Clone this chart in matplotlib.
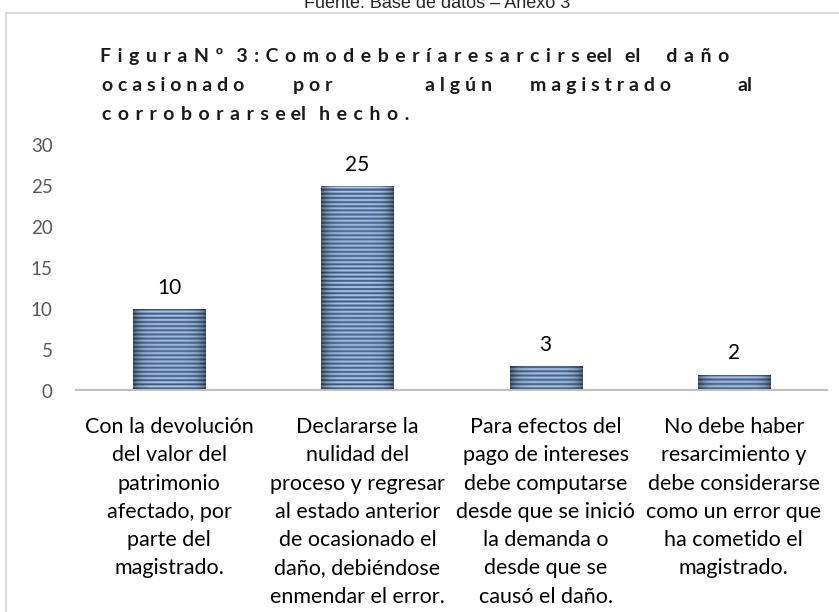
import numpy as np
import matplotlib
matplotlib.use("Agg")
import matplotlib.pyplot as plt
import matplotlib.transforms as mtransforms
from matplotlib.patches import Rectangle

W, H = 839, 612

categorias = [
    ["Con la devolución", "del valor del", "patrimonio", "afectado, por", "parte del", "magistrado."],
    ["Declararse la", "nulidad del", "proceso y regresar", "al estado anterior",
     "de ocasionado el", "daño, debiéndose", "enmendar el error."],
    ["Para efectos del", "pago de intereses", "debe computarse", "desde que se inició",
     "la demanda o", "desde que se", "causó el daño."],
    ["No debe haber", "resarcimiento y", "debe considerarse", "como un error que",
     "ha cometido el", "magistrado."],
]
valores = [10, 25, 3, 2]
yticks = [0, 5, 10, 15, 20, 25, 30]

fuente = "Fuente: Base de datos – Anexo 3"
# el titulo sale con letras espaciadas y la linea 2 justificada
titulo_l2 = ["ocasionado", "por", "algún", "magistrado", "al"]

SP = "\u2005"   # espacio entre letras (linea 2)
SP3 = "\u2004"  # un poco mas ancho (lineas 1 y 3)


def sp(txt, s=SP):
    return s.join(txt)


titulo_l1 = (sp("FiguraNº", SP3) + SP3 * 2 + sp("3:Comodeberíaresarcirse", SP3)
             + "el" + SP3 * 2 + "el" + SP3 * 4 + sp("daño", SP3))
titulo_l3 = sp("corroborarse", SP3) + SP + "el" + SP3 * 2 + sp("hecho.", SP3)

plt.rcParams["font.family"] = ["Lato", "DejaVu Sans"]

fig = plt.figure(figsize=(W / 100, H / 100), dpi=100)
ax = fig.add_axes([75 / W, 1 - 391 / H, (828 - 75) / W, (391 - 145) / H])

x = np.arange(len(valores))
bars = ax.bar(x, valores, width=0.383, color="#7f9fc8", linewidth=0, zorder=2)

# textura de franjas horizontales con bordes oscuros
for b, v in zip(bars, valores):
    nrows = int(v * 8.2)
    rows = 0.5 + 0.5 * np.cos(2 * np.pi * np.arange(nrows) / 4.1)
    cols = np.linspace(-1, 1, 60)
    edge = 1 - 0.45 * np.abs(cols) ** 5
    light = np.array([0.68, 0.80, 0.94])
    dark = np.array([0.24, 0.34, 0.50])
    tex = dark[None, None, :] + (light - dark)[None, None, :] * rows[:, None, None]
    tex = tex * edge[None, :, None]
    x0, x1 = b.get_x(), b.get_x() + b.get_width()
    im = ax.imshow(np.clip(tex, 0, 1), extent=[x0, x1, 0, v], aspect="auto",
                   origin="lower", zorder=3, interpolation="bilinear")
    im.set_clip_path(b)

ax.axhline(0, color="#bfbfbf", lw=3, zorder=4)

for xi, v in zip(x, valores):
    ax.annotate(str(v), (xi, v), xytext=(0, 8), textcoords="offset points",
                ha="center", va="bottom", fontsize=15, color="#000000")

ax.set_xlim(-0.5, 3.5)
ax.set_ylim(0, 30)
ax.set_yticks(yticks)
ax.set_yticklabels([str(t) for t in yticks], fontsize=13.5, color="#595959")
ax.tick_params(axis="y", length=0, pad=16)
ax.set_xticks([])
for s in ax.spines.values():
    s.set_visible(False)
ax.patch.set_alpha(0)

# etiquetas de categoria, linea por linea
trans = mtransforms.blended_transform_factory(ax.transData, fig.transFigure)
for xi, lineas in zip(x, categorias):
    for k, ln in enumerate(lineas):
        ax.text(xi, 1 - (427 + k * 28.3) / H, ln, transform=trans, ha="center",
                va="center", fontsize=15.5, color="#000000", clip_on=False)

# titulo
tkw = dict(fontsize=14, fontweight="bold", color="#1a1a1a", va="baseline")
fig.text(100 / W, 1 - 62 / H, titulo_l1, **tkw)
for pal, x0 in zip(titulo_l2, [102, 293, 425, 530, 737]):
    fig.text(x0 / W, 1 - 91 / H, sp(pal) if len(pal) > 2 else pal, **tkw)
fig.text(102 / W, 1 - 120 / H, titulo_l3, **tkw)

fig.text(437 / W, 1 - 8 / H, fuente, ha="center", va="baseline", fontsize=13,
         family="Liberation Sans", color="#262626")

fig.add_artist(Rectangle((6 / W, -0.1), 1.2, 1.1 - 13 / H, transform=fig.transFigure,
                         fill=False, ec="#d9d9d9", lw=1.5))

fig.savefig("out.png", dpi=100)
